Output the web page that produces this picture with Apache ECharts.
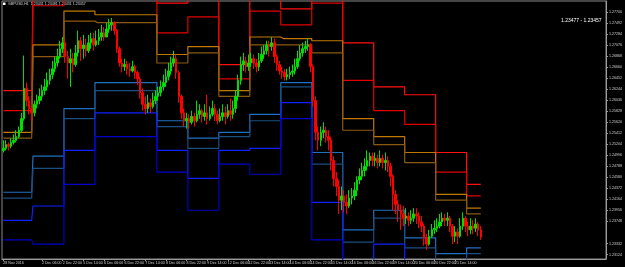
<!DOCTYPE html>
<html lang="en">
<head>
<meta charset="UTF-8">
<title>GBPUSD,H1</title>
<style>
    html, body { margin: 0; padding: 0; background: #000; }
    #chart { width: 625px; height: 267px; }
</style>
</head>
<body>
<div id="chart"></div>
<script src="https://cdn.jsdelivr.net/npm/echarts/dist/echarts.min.js"></script>
<script>
// trading days on the chart (2h bars, 12 per day), labels every 16 hours
var days = ['1 Dec', '2 Dec', '5 Dec', '6 Dec', '7 Dec', '8 Dec', '9 Dec', '12 Dec', '13 Dec', '14 Dec',
    '15 Dec', '16 Dec', '19 Dec', '20 Dec', '21 Dec', '22 Dec', '23 Dec', '26 Dec', '27 Dec', '28 Dec'];
var hours = ['00:00', '02:00', '04:00', '06:00', '08:00', '10:00', '12:00', '14:00', '16:00', '18:00', '20:00', '22:00'];
var tickLabels = ['28 Nov 2016', '1 Dec 14:00', '2 Dec 06:00', '2 Dec 22:00', '5 Dec 14:00', '6 Dec 06:00',
    '6 Dec 22:00', '7 Dec 14:00', '8 Dec 06:00', '8 Dec 22:00', '9 Dec 14:00', '12 Dec 06:00', '12 Dec 22:00',
    '13 Dec 14:00', '14 Dec 06:00', '14 Dec 22:00', '15 Dec 14:00', '16 Dec 06:00', '16 Dec 22:00',
    '19 Dec 14:00', '20 Dec 06:00', '20 Dec 22:00', '21 Dec 14:00', '22 Dec 06:00'];
var priceTicks = [1.27700, 1.27492, 1.27284, 1.27076, 1.26868, 1.26660, 1.26452, 1.26244, 1.26036, 1.25828,
    1.25620, 1.25412, 1.25204, 1.24996, 1.24788, 1.24580, 1.24372, 1.24164, 1.23956, 1.23748, 1.23332, 1.23124];

var firstOpen = 1.2509;
var closes = [
    1.2513,1.2520,1.2517,1.2524,1.2528,1.2535,1.2547,1.2569,1.2626,1.2603,1.2588,1.2580,
    1.2596,1.2603,1.2611,1.2622,1.2629,1.2641,1.2652,1.2663,1.2674,1.2686,1.2701,1.2712,
    1.2686,1.2674,1.2682,1.2671,1.2693,1.2716,1.2701,1.2708,1.2697,1.2712,1.2720,1.2708,
    1.2716,1.2723,1.2731,1.2723,1.2738,1.2746,1.2750,1.2735,1.2701,1.2674,1.2667,1.2671,
    1.2663,1.2659,1.2667,1.2656,1.2644,1.2618,1.2596,1.2588,1.2599,1.2592,1.2603,1.2611,
    1.2618,1.2629,1.2637,1.2648,1.2659,1.2674,1.2682,1.2656,1.2611,1.2580,1.2565,1.2569,
    1.2562,1.2573,1.2565,1.2577,1.2584,1.2573,1.2580,1.2569,1.2577,1.2588,1.2577,1.2565,
    1.2573,1.2580,1.2573,1.2584,1.2577,1.2588,1.2611,1.2641,1.2671,1.2678,1.2667,1.2674,
    1.2682,1.2674,1.2667,1.2678,1.2690,1.2697,1.2708,1.2705,1.2712,1.2686,1.2671,1.2659,
    1.2656,1.2648,1.2652,1.2656,1.2659,1.2667,1.2682,1.2693,1.2701,1.2705,1.2708,1.2667,
    1.2603,1.2543,1.2528,1.2543,1.2547,1.2535,1.2528,1.2490,1.2456,1.2441,1.2415,1.2423,
    1.2411,1.2404,1.2419,1.2423,1.2434,1.2453,1.2460,1.2471,1.2479,1.2490,1.2498,1.2490,
    1.2494,1.2486,1.2494,1.2486,1.2490,1.2479,1.2460,1.2426,1.2407,1.2396,1.2389,1.2381,
    1.2385,1.2377,1.2381,1.2389,1.2385,1.2374,1.2366,1.2344,1.2332,1.2347,1.2359,1.2362,
    1.2366,1.2374,1.2381,1.2377,1.2381,1.2366,1.2347,1.2355,1.2347,1.2366,1.2381,1.2366,
    1.2359,1.2366,1.2362,1.2370,1.2359,1.23457
];
var highs = [
    1.2528,1.2528,1.2524,1.2532,1.2539,1.2547,1.2554,1.2580,1.2688,1.2637,1.2611,1.2596,
    1.2603,1.2614,1.2626,1.2633,1.2644,1.2656,1.2663,1.2678,1.2686,1.2701,1.2716,1.2723,
    1.2720,1.2697,1.2701,1.2693,1.2708,1.2735,1.2723,1.2727,1.2720,1.2727,1.2731,1.2731,
    1.2735,1.2738,1.2746,1.2742,1.2750,1.2757,1.2759,1.2753,1.2738,1.2705,1.2682,1.2682,
    1.2678,1.2674,1.2678,1.2671,1.2659,1.2648,1.2626,1.2611,1.2614,1.2607,1.2618,1.2622,
    1.2629,1.2641,1.2652,1.2663,1.2674,1.2686,1.2697,1.2690,1.2659,1.2614,1.2588,1.2580,
    1.2577,1.2584,1.2580,1.2603,1.2596,1.2588,1.2596,1.2614,1.2592,1.2603,1.2596,1.2584,
    1.2588,1.2596,1.2592,1.2596,1.2607,1.2603,1.2622,1.2652,1.2686,1.2693,1.2686,1.2690,
    1.2693,1.2690,1.2682,1.2693,1.2705,1.2708,1.2716,1.2716,1.2723,1.2720,1.2690,1.2678,
    1.2667,1.2663,1.2663,1.2667,1.2671,1.2682,1.2697,1.2708,1.2712,1.2716,1.2720,1.2712,
    1.2671,1.2611,1.2554,1.2554,1.2562,1.2554,1.2547,1.2535,1.2498,1.2468,1.2453,1.2441,
    1.2434,1.2426,1.2434,1.2438,1.2449,1.2460,1.2475,1.2486,1.2494,1.2509,1.2505,1.2505,
    1.2505,1.2501,1.2509,1.2501,1.2505,1.2498,1.2486,1.2464,1.2434,1.2415,1.2407,1.2404,
    1.2400,1.2392,1.2396,1.2400,1.2400,1.2392,1.2385,1.2370,1.2351,1.2359,1.2370,1.2377,
    1.2381,1.2389,1.2392,1.2389,1.2392,1.2385,1.2370,1.2366,1.2362,1.2381,1.2392,1.2385,
    1.2374,1.2381,1.2377,1.2381,1.2374,1.2366
];
var lows = [
    1.2505,1.2509,1.2509,1.2513,1.2520,1.2524,1.2532,1.2543,1.2565,1.2592,1.2577,1.2565,
    1.2573,1.2588,1.2596,1.2603,1.2614,1.2622,1.2633,1.2644,1.2656,1.2667,1.2682,1.2693,
    1.2674,1.2644,1.2629,1.2656,1.2667,1.2686,1.2678,1.2682,1.2686,1.2693,1.2701,1.2697,
    1.2705,1.2708,1.2716,1.2716,1.2723,1.2731,1.2735,1.2727,1.2693,1.2667,1.2656,1.2659,
    1.2652,1.2648,1.2656,1.2644,1.2633,1.2607,1.2584,1.2577,1.2580,1.2580,1.2588,1.2596,
    1.2603,1.2611,1.2622,1.2629,1.2641,1.2652,1.2667,1.2644,1.2599,1.2569,1.2554,1.2550,
    1.2550,1.2558,1.2554,1.2562,1.2569,1.2562,1.2565,1.2558,1.2565,1.2573,1.2565,1.2558,
    1.2562,1.2565,1.2558,1.2569,1.2565,1.2569,1.2580,1.2603,1.2633,1.2659,1.2656,1.2659,
    1.2667,1.2663,1.2656,1.2659,1.2674,1.2682,1.2690,1.2686,1.2697,1.2674,1.2659,1.2652,
    1.2644,1.2641,1.2641,1.2644,1.2648,1.2652,1.2663,1.2678,1.2686,1.2693,1.2697,1.2656,
    1.2592,1.2528,1.2509,1.2517,1.2532,1.2524,1.2509,1.2471,1.2441,1.2423,1.2389,1.2396,
    1.2392,1.2389,1.2400,1.2407,1.2415,1.2423,1.2445,1.2453,1.2460,1.2471,1.2479,1.2479,
    1.2479,1.2475,1.2479,1.2475,1.2471,1.2468,1.2441,1.2396,1.2389,1.2374,1.2359,1.2366,
    1.2370,1.2366,1.2370,1.2374,1.2370,1.2362,1.2355,1.2329,1.2321,1.2329,1.2344,1.2351,
    1.2355,1.2362,1.2366,1.2366,1.2366,1.2355,1.2332,1.2336,1.2332,1.2344,1.2359,1.2355,
    1.2347,1.2351,1.2351,1.2355,1.2347,1.2340
];

// daily levels, one value per trading day
var red1 = [1.2622, 1.2810, 1.2870, 1.2860, 1.2860, 1.2787, 1.2802, 1.2671, 1.2810, 1.2776, 1.2817, 1.2712, 1.2629, 1.2614, 1.2505, 1.2445];
var red2 = [1.2584, 1.2782, 1.2835, 1.2820, 1.2820, 1.2731, 1.2761, 1.2644, 1.2772, 1.2746, 1.2787, 1.2641, 1.2584, 1.2558, 1.2468, 1.2423];
var orange1 = [1.2543, 1.2708, 1.2772, 1.2765, 1.2765, 1.2690, 1.2705, 1.2622, 1.2723, 1.2720, 1.2716, 1.2569, 1.2535, 1.2505, 1.2426, 1.2400];
var orange2 = [1.2532, 1.2686, 1.2753, 1.2750, 1.2750, 1.2674, 1.2693, 1.2611, 1.2708, 1.2708, 1.2693, 1.2547, 1.2520, 1.2486, 1.2415, 1.2389];
var steel1 = [1.2430, 1.2498, 1.2588, 1.2637, 1.2637, 1.2565, 1.2532, 1.2543, 1.2577, 1.2637, 1.2505, 1.2359, 1.2396, 1.2344, 1.2314, 1.2325];
var steel2 = [1.2419, 1.2475, 1.2569, 1.2622, 1.2622, 1.2554, 1.2513, 1.2535, 1.2565, 1.2629, 1.2483, 1.2336, 1.2381, 1.2325, 1.2285, 1.2314];
var blue1 = [1.2377, 1.2404, 1.2509, 1.2580, 1.2580, 1.2509, 1.2456, 1.2509, 1.2513, 1.2599, 1.2411, 1.2285, 1.2332, 1.2280, 1.2270, 1.2280];
var blue2 = [1.2340, 1.2332, 1.2445, 1.2535, 1.2535, 1.2468, 1.2396, 1.2483, 1.2464, 1.2569, 1.2340, 1.2250, 1.2270, 1.2250, 1.2240, 1.2250];

var lastPrice = closes[closes.length - 1];

var categories = [];
days.forEach(function (d) {
    hours.forEach(function (h) { categories.push(d + ' ' + h); });
});
categories = categories.slice(0, 234);

var ohlc = closes.map(function (c, i) {
    var o = i ? closes[i - 1] : firstOpen;
    return [o, c, Math.min(lows[i], o, c), Math.max(highs[i], o, c)];
});

function perBar(arr) {
    return closes.map(function (c, i) { return arr[Math.floor(i / 12)]; });
}

function showTick(i) {
    return i === 0 || (i >= 7 && (i - 7) % 8 === 0 && (i - 7) / 8 + 1 < tickLabels.length);
}

function levelSeries(name, arr, color) {
    return {
        name: name,
        type: 'line',
        step: 'middle',
        data: perBar(arr),
        symbol: 'none',
        silent: true,
        z: 2,
        lineStyle: { color: color, width: 1.2 }
    };
}

var myChart = echarts.init(document.getElementById('chart'));
myChart.setOption({
    backgroundColor: '#000',
    animation: false,
    grid: {
        left: 2, right: 14, top: 1, bottom: 8,
        show: true, borderColor: '#8a8a8a', borderWidth: 1
    },
    xAxis: {
        type: 'category',
        data: categories,
        boundaryGap: true,
        axisLine: { lineStyle: { color: '#9a9a9a' } },
        axisTick: { show: true, alignWithLabel: true, length: 2, interval: function (i) { return showTick(i); },
            lineStyle: { color: '#9a9a9a' } },
        axisLabel: {
            interval: function (i) { return showTick(i); },
            formatter: function (v, i) { return i === 0 ? tickLabels[0] : v; },
            showMinLabel: true,
            hideOverlap: false,
            fontSize: 3.6, color: '#d0d0d0', align: 'left', margin: 2,
            fontFamily: 'Liberation Sans'
        },
        splitLine: { show: false }
    },
    yAxis: {
        type: 'value',
        position: 'right',
        min: 1.2304,
        max: 1.2791,
        axisLine: { show: true, lineStyle: { color: '#9a9a9a' } },
        axisTick: { show: true, length: 2, customValues: priceTicks, lineStyle: { color: '#9a9a9a' } },
        axisLabel: {
            customValues: priceTicks,
            formatter: function (v) { return v.toFixed(5); },
            fontSize: 3.6, color: '#d0d0d0', margin: 3,
            fontFamily: 'Liberation Sans'
        },
        splitLine: { show: false }
    },
    graphic: [
        { type: 'rect', shape: { x: 3, y: 2.5, width: 2.5, height: 2.5 }, style: { fill: '#ffffff' } },
        { type: 'text', x: 8, y: 1.5,
          style: { text: 'GBPUSD,H1  1.23431 1.23481 1.23431 1.23457', fill: '#d8d8d8', fontSize: 3.6,
                   fontFamily: 'Liberation Sans' } },
        { type: 'text', x: 561, y: 18,
          style: { text: '1.23477 - 1.23457', fill: '#ffffff', fontSize: 5,
                   fontFamily: 'Liberation Sans' } }
    ],
    series: [
        levelSeries('red1', red1, '#ff1010'),
        levelSeries('red2', red2, '#e00000'),
        levelSeries('orange1', orange1, '#c07800'),
        levelSeries('orange2', orange2, '#8a5a10'),
        levelSeries('steel1', steel1, '#2070c0'),
        levelSeries('steel2', steel2, '#1a4f80'),
        levelSeries('blue1', blue1, '#1020ff'),
        levelSeries('blue2', blue2, '#0000c8'),
        {
            name: 'GBPUSD',
            type: 'candlestick',
            data: ohlc,
            barWidth: 2,
            z: 5,
            itemStyle: {
                color: '#00e000', borderColor: '#00e000',
                color0: '#ff0000', borderColor0: '#ff0000',
                borderWidth: 1
            },
            markLine: {
                silent: true,
                symbol: ['none', 'none'],
                lineStyle: { color: '#808080', width: 1, type: 'solid' },
                label: {
                    show: true, position: 'end', distance: 3,
                    formatter: lastPrice.toFixed(5),
                    fontSize: 3.6, color: '#000', backgroundColor: '#c8c8c8', padding: [1, 1],
                    fontFamily: 'Liberation Sans'
                },
                data: [{ yAxis: lastPrice }]
            }
        }
    ]
});
</script>
</body>
</html>
